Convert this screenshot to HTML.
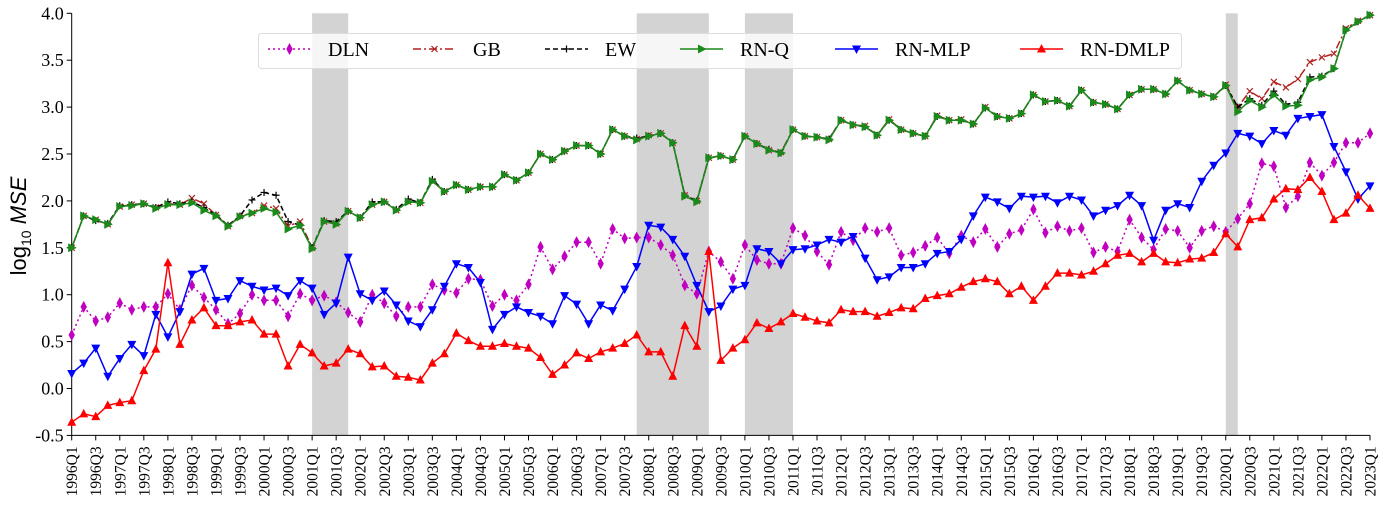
<!DOCTYPE html>
<html><head><meta charset="utf-8"><style>
html,body{margin:0;padding:0;background:#fff;}
svg{display:block;font-family:"Liberation Serif",serif;}
</style></head><body>
<svg id="chart" width="1386" height="513" viewBox="0 0 1386 513" xmlns="http://www.w3.org/2000/svg">
<g id="shades"></g>
<g id="axes"></g>
<g id="series"></g>
<g id="legend"></g>
</svg>
<script>
const startYear = 1996, nQuarters = 109;
const yTicks = [-0.5,0.0,0.5,1.0,1.5,2.0,2.5,3.0,3.5,4.0];
const recessions = [[20,23],[47,53],[56,60],[96,97]];
const rnq = [1.50,1.84,1.80,1.75,1.94,1.95,1.97,1.92,1.96,1.96,1.98,1.90,1.84,1.73,1.83,1.87,1.92,1.88,1.70,1.74,1.49,1.78,1.75,1.89,1.82,1.96,1.99,1.90,1.99,1.98,2.21,2.10,2.17,2.12,2.15,2.15,2.28,2.22,2.30,2.50,2.44,2.53,2.59,2.59,2.50,2.76,2.69,2.65,2.69,2.72,2.62,2.05,1.99,2.46,2.48,2.44,2.69,2.61,2.54,2.51,2.76,2.69,2.68,2.65,2.86,2.81,2.79,2.70,2.86,2.76,2.72,2.69,2.90,2.86,2.86,2.82,2.99,2.90,2.88,2.93,3.13,3.06,3.07,3.01,3.18,3.05,3.03,2.98,3.13,3.19,3.19,3.14,3.28,3.18,3.14,3.11,3.23,2.95,3.07,3.00,3.13,3.01,3.02,3.29,3.32,3.41,3.82,3.91,3.98];
const ew = [1.50,1.84,1.79,1.76,1.95,1.96,1.97,1.93,1.99,1.97,1.99,1.93,1.85,1.74,1.84,2.01,2.09,2.06,1.78,1.74,1.50,1.79,1.78,1.89,1.82,1.99,1.99,1.91,2.02,1.98,2.23,2.10,2.17,2.12,2.15,2.15,2.28,2.22,2.30,2.50,2.44,2.53,2.59,2.59,2.50,2.76,2.69,2.67,2.69,2.72,2.62,2.06,2.00,2.46,2.48,2.44,2.69,2.61,2.55,2.51,2.76,2.69,2.68,2.66,2.86,2.81,2.79,2.70,2.86,2.76,2.72,2.69,2.90,2.86,2.86,2.82,2.99,2.90,2.88,2.93,3.13,3.06,3.07,3.01,3.18,3.05,3.03,2.98,3.13,3.19,3.19,3.14,3.28,3.18,3.14,3.11,3.23,3.00,3.09,3.02,3.17,3.03,3.05,3.32,3.33,3.41,3.82,3.91,3.98];
const gb = [1.50,1.84,1.80,1.75,1.94,1.96,1.97,1.93,1.97,1.96,2.03,1.97,1.85,1.73,1.84,1.87,1.95,1.92,1.73,1.78,1.50,1.78,1.76,1.89,1.82,1.96,1.99,1.90,1.99,1.98,2.21,2.10,2.17,2.12,2.15,2.15,2.28,2.22,2.30,2.50,2.44,2.53,2.59,2.59,2.50,2.76,2.69,2.66,2.70,2.72,2.62,2.06,2.00,2.46,2.48,2.44,2.69,2.61,2.54,2.52,2.76,2.69,2.68,2.66,2.86,2.81,2.80,2.70,2.87,2.76,2.72,2.69,2.91,2.86,2.87,2.82,3.00,2.90,2.88,2.93,3.13,3.06,3.07,3.01,3.18,3.05,3.03,2.98,3.13,3.19,3.19,3.14,3.28,3.18,3.14,3.11,3.24,3.00,3.17,3.09,3.27,3.21,3.30,3.48,3.53,3.57,3.84,3.92,3.98];
const dln = [0.57,0.87,0.72,0.76,0.91,0.84,0.87,0.87,1.01,0.84,1.10,0.97,0.84,0.69,0.80,1.00,0.94,0.94,0.77,1.01,0.94,0.99,0.92,0.81,0.71,1.00,0.91,0.77,0.87,0.87,1.11,1.05,1.02,1.17,1.16,0.88,1.00,0.94,1.11,1.51,1.27,1.41,1.56,1.56,1.33,1.70,1.60,1.61,1.61,1.53,1.42,1.10,1.01,1.46,1.35,1.17,1.53,1.37,1.33,1.33,1.71,1.63,1.46,1.32,1.67,1.58,1.71,1.67,1.71,1.42,1.45,1.52,1.61,1.44,1.63,1.56,1.70,1.51,1.65,1.69,1.91,1.66,1.73,1.68,1.71,1.45,1.51,1.46,1.80,1.61,1.48,1.70,1.68,1.50,1.68,1.73,1.67,1.81,1.97,2.40,2.37,1.93,2.05,2.41,2.27,2.41,2.62,2.62,2.72];
const mlp = [0.16,0.27,0.43,0.13,0.32,0.47,0.35,0.79,0.55,0.82,1.22,1.28,0.94,0.96,1.15,1.09,1.05,1.07,0.99,1.15,1.07,0.79,0.91,1.40,1.01,0.94,1.04,0.89,0.72,0.66,0.84,1.09,1.33,1.29,1.13,0.63,0.79,0.87,0.81,0.77,0.69,0.99,0.90,0.69,0.89,0.83,1.06,1.30,1.74,1.72,1.59,1.41,1.10,0.82,0.88,1.06,1.10,1.49,1.46,1.33,1.48,1.49,1.53,1.59,1.56,1.62,1.39,1.16,1.19,1.29,1.29,1.33,1.44,1.46,1.59,1.84,2.04,1.99,1.92,2.05,2.04,2.05,1.98,2.05,2.01,1.84,1.90,1.95,2.06,1.95,1.58,1.90,1.97,1.93,2.21,2.38,2.51,2.72,2.69,2.61,2.75,2.70,2.88,2.90,2.92,2.58,2.31,2.02,2.16];
const dmlp = [-0.36,-0.27,-0.30,-0.18,-0.15,-0.13,0.19,0.42,1.34,0.47,0.73,0.86,0.67,0.67,0.71,0.73,0.58,0.58,0.24,0.47,0.38,0.24,0.27,0.42,0.37,0.23,0.24,0.13,0.12,0.09,0.27,0.37,0.59,0.51,0.45,0.45,0.48,0.45,0.43,0.33,0.15,0.25,0.38,0.32,0.39,0.43,0.48,0.57,0.39,0.39,0.13,0.67,0.45,1.46,0.30,0.43,0.52,0.70,0.64,0.71,0.80,0.76,0.72,0.70,0.84,0.82,0.82,0.77,0.81,0.86,0.85,0.96,0.99,1.01,1.08,1.14,1.17,1.14,1.01,1.09,0.94,1.09,1.23,1.23,1.21,1.25,1.33,1.42,1.44,1.35,1.44,1.35,1.34,1.38,1.39,1.45,1.65,1.51,1.80,1.82,2.02,2.13,2.12,2.25,2.10,1.80,1.87,2.06,1.92];

const NS = "http://www.w3.org/2000/svg";
const X0 = 71.7, X1 = 1370, YT = 13.3, YB = 435.4, VMIN = -0.5, VMAX = 4.0;
function xs(i){ return X0 + (X1 - X0) * i / (nQuarters - 1); }
function ys(v){ return YB - (YB - YT) * (v - VMIN) / (VMAX - VMIN); }
function mk(tag, attrs, parent){ const e = document.createElementNS(NS, tag); for (const k in attrs) e.setAttribute(k, attrs[k]); parent.appendChild(e); return e; }

const gS = document.getElementById('shades');
recessions.forEach(r => {
  const el = mk('rect', {x: xs(r[0]), y: YT, width: xs(r[1]) - xs(r[0]), height: YB - YT, fill: '#d3d3d3'}, gS);
  
  
});

const gA = document.getElementById('axes');
const yl = mk('line', {x1: X0, y1: YT, x2: X0, y2: YB, stroke: '#000', 'stroke-width': 1}, gA);


const xl = mk('line', {x1: X0, y1: YB, x2: X1, y2: YB, stroke: '#000', 'stroke-width': 1}, gA);


yTicks.forEach(v => {
  mk('line', {x1: X0 - 5, y1: ys(v), x2: X0, y2: ys(v), stroke: '#000'}, gA);
  const t = mk('text', {x: X0 - 8, y: ys(v) + 6, 'text-anchor': 'end', 'font-size': 18}, gA);
  t.textContent = v.toFixed(1);
  
  
});
for (let i = 0; i < nQuarters; i += 2) {
  const x = xs(i);
  mk('line', {x1: x, y1: YB, x2: x, y2: YB + 5, stroke: '#000'}, gA);
  const yr = startYear + Math.floor(i / 4), q = (i % 4) + 1;
  const t = mk('text', {x: 0, y: 0, 'text-anchor': 'end', 'font-size': 15.5, transform: `translate(${x + 5.5},${YB + 11}) rotate(-90)`}, gA);
  t.textContent = yr + 'Q' + q;
  
  
}
const yt = mk('text', {x: 0, y: 0, 'text-anchor': 'middle', 'font-size': 22, 'font-family': '"Liberation Sans",sans-serif', transform: 'translate(26,226) rotate(-90)'}, gA);
yt.innerHTML = 'log<tspan font-size="14" dy="5">10</tspan><tspan dy="-5" font-style="italic"> MSE</tspan>';



function marker(g, type, x, y, color) {
  let el;
  if (type === 'diamond') el = mk('polygon', {points: `${x},${y-6} ${x+3.2},${y} ${x},${y+6} ${x-3.2},${y}`, fill: color}, g);
  else if (type === 'x') el = mk('path', {d: `M${x-3},${y-3}L${x+3},${y+3}M${x-3},${y+3}L${x+3},${y-3}`, stroke: color, 'stroke-width': 1.2, fill: 'none'}, g);
  else if (type === 'plus') el = mk('path', {d: `M${x-3.5},${y}L${x+3.5},${y}M${x},${y-3.5}L${x},${y+3.5}`, stroke: color, 'stroke-width': 1.2, fill: 'none'}, g);
  else if (type === 'right') el = mk('polygon', {points: `${x+5},${y} ${x-3.5},${y-4.5} ${x-3.5},${y+4.5}`, fill: color}, g);
  else if (type === 'down') el = mk('polygon', {points: `${x},${y+5} ${x-4.5},${y-3.5} ${x+4.5},${y-3.5}`, fill: color}, g);
  else el = mk('polygon', {points: `${x},${y-5} ${x-4.5},${y+3.5} ${x+4.5},${y+3.5}`, fill: color}, g);
  return el;
}

const seriesDefs = [
  {name: 'DLN', data: dln, color: '#c000c0', dash: '2,3', m: 'diamond', key: 'dln'},
  {name: 'GB', data: gb, color: '#b22222', dash: '8,3,2,3', m: 'x', key: 'gb'},
  {name: 'EW', data: ew, color: '#000000', dash: '5,3', m: 'plus', key: 'ew'},
  {name: 'RN-Q', data: rnq, color: '#1a8a1a', dash: null, m: 'right', key: 'rn-q'},
  {name: 'RN-MLP', data: mlp, color: '#0000ff', dash: null, m: 'down', key: 'rn-mlp'},
  {name: 'RN-DMLP', data: dmlp, color: '#ff0000', dash: null, m: 'up', key: 'rn-dmlp'}
];
const gSer = document.getElementById('series');
seriesDefs.forEach(s => {
  const g = mk('g', {}, gSer);
  
  
  const pts = s.data.map((v, i) => `${xs(i).toFixed(1)},${ys(v).toFixed(1)}`).join(' ');
  const attrs = {points: pts, fill: 'none', stroke: s.color, 'stroke-width': 1.5};
  if (s.dash) attrs['stroke-dasharray'] = s.dash;
  const pl = mk('polyline', attrs, g);
  
  
  s.data.forEach((v, i) => {
    const m = marker(g, s.m, xs(i), ys(v), s.color);
    
    
  });
});

const gL = document.getElementById('legend');


mk('rect', {x: 258.5, y: 33.5, width: 923, height: 35, rx: 3, fill: 'rgba(255,255,255,0.8)', stroke: '#ddd'}, gL);
const lx = [268, 413, 545, 680, 835, 1020];
seriesDefs.forEach((s, k) => {
  const g = mk('g', {}, gL);
  
  
  const a = {x1: lx[k], y1: 49, x2: lx[k] + 43, y2: 49, stroke: s.color, 'stroke-width': 1.5};
  if (s.dash) a['stroke-dasharray'] = s.dash;
  mk('line', a, g);
  marker(g, s.m, lx[k] + 21.5, 49, s.color);
  const t = mk('text', {x: lx[k] + 60, y: 56, 'font-size': 20}, g);
  t.textContent = s.name;
});
</script>
</body></html>
